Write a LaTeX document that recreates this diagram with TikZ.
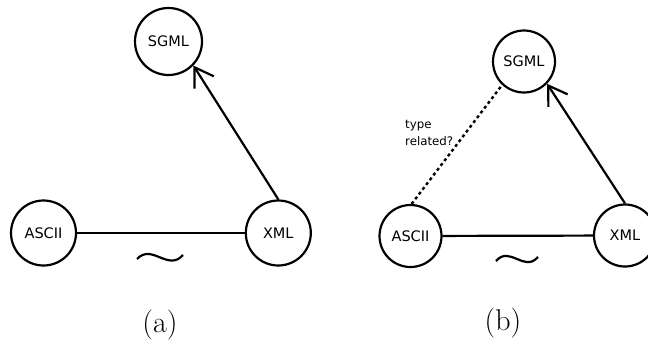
\documentclass[tikz,border=0pt]{standalone}
\usepackage{fontspec}
\newfontfamily\dvs{DejaVu Sans}
\usetikzlibrary{arrows.meta}
\begin{document}
\begin{tikzpicture}[x=1pt,y=-1pt,
  nodecirc/.style={circle,draw,line width=2.2pt,inner sep=0pt,font=\dvs\fontsize{14.5}{17}\selectfont},
  bigc/.style={nodecirc,minimum size=67pt},
  smallc/.style={nodecirc,minimum size=62pt},
  edge/.style={line width=2.2pt},
  barb/.style={edge,-{Straight Barb[length=18pt,width=23pt]}},
  dotline/.style={line width=2.4pt,dash pattern=on 3pt off 3pt},
  wave/.style={line width=2.2pt},
  caption/.style={font=\fontsize{30}{36}\selectfont},
  note/.style={font=\dvs\fontsize{11.8}{17}\selectfont,align=left,inner sep=0pt,anchor=north west}]
\useasboundingbox (0,0) rectangle (648,346);
% panel (a)
\node[bigc] (sgmlA) at (168.5,41.5) {SGML};
\node[smallc,minimum size=65pt] (asciiA) at (43.5,233) {ASCII};
\node[smallc,minimum size=65pt] (xmlA) at (278.3,233) {XML};
\draw[edge] (asciiA) -- (xmlA);
\draw[barb] (xmlA.north) -- (sgmlA.-44);
\draw[wave] (137,259) .. controls (152,243) and (168,272) .. (183,255);
\node[caption] (capA) at (160,325) {(a)};
% panel (b)
\node[smallc] (sgmlB) at (524,61.5) {SGML};
\node[smallc] (asciiB) at (410.5,236) {ASCII};
\node[smallc] (xmlB) at (625,235.5) {XML};
\draw[edge] (asciiB) -- (xmlB);
\draw[barb] (xmlB.north) -- (sgmlB.-44);
\draw[dotline] (asciiB.88) -- (sgmlB.227);
\node[note] (typeB) at (405,120) {type\\related?};
\draw[wave] (496,261) .. controls (510,245) and (524,273) .. (538,257);
\node[caption] (capB) at (503,323) {(b)};
\end{tikzpicture}
\end{document}
